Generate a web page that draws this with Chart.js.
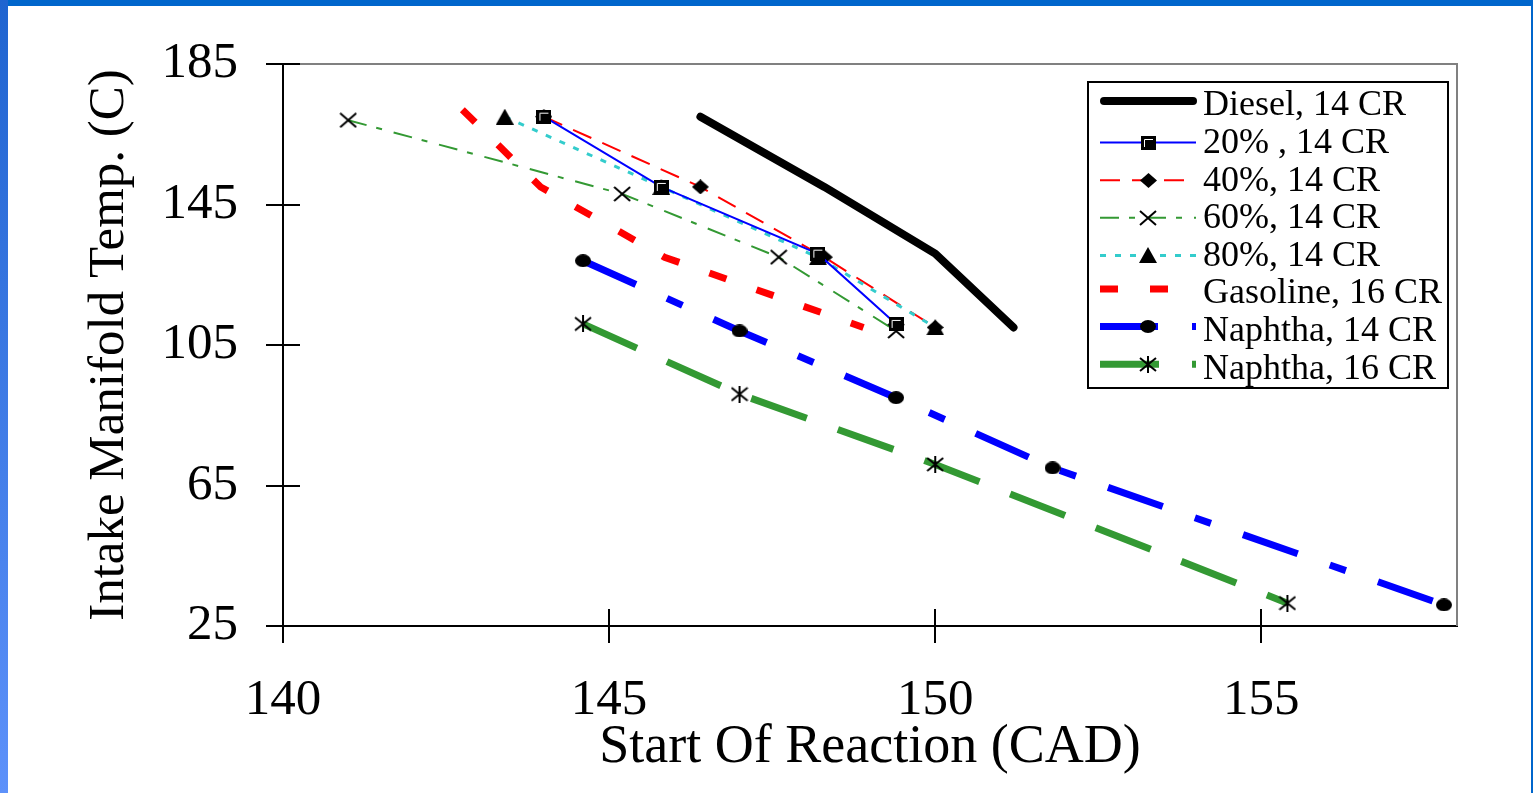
<!DOCTYPE html>
<html>
<head>
<meta charset="utf-8">
<title>Intake Manifold Temp vs Start Of Reaction</title>
<script src="https://cdn.jsdelivr.net/npm/chart.js@4.4.1/dist/chart.umd.min.js"></script>
<style>
    html, body { margin: 0; padding: 0; background: #fff; overflow: hidden; }
    #wrap { position: relative; width: 1533px; height: 793px; }
    #chart { display: block; }
    .bar { position: absolute; pointer-events: none; }
    #topBar { left: 0; top: 0; width: 1533px; height: 6px; background: #0066cc; }
    #leftBar { left: 0; top: 0; width: 8px; height: 793px; background: linear-gradient(to bottom, #1f64d0, #5d91fa); }
    #rightBar { left: 1531px; top: 0; width: 2px; height: 793px; background: #0066cc; }
</style>
</head>
<body>
<div id="wrap">
    <canvas id="chart" width="1533" height="793"></canvas>
    <div class="bar" id="topBar"></div>
    <div class="bar" id="leftBar"></div>
    <div class="bar" id="rightBar"></div>
</div>
<script>
// Axis ticks
const xTicks = [140, 145, 150, 155];
const yTicks = [25, 65, 105, 145, 185];

// Series (x = start of reaction CAD, y = intake manifold temp C)
const seriesNames = ['Diesel, 14 CR', '20% , 14 CR', '40%, 14 CR', '60%, 14 CR',
    '80%, 14 CR', 'Gasoline, 16 CR', 'Naphtha, 14 CR', 'Naphtha, 16 CR'];

const dieselX = [146.4, 148.3, 150.0, 151.2];
const dieselY = [170, 150, 131, 110];

const pct20X = [144.0, 145.8, 148.2, 149.4];
const pct20Y = [170, 150, 131, 111];

const pct40X = [144.0, 146.4, 148.3, 150.0];
const pct40Y = [170, 150, 130, 110];

const pct60X = [141.0, 145.2, 147.6, 149.4];
const pct60Y = [169, 148, 130, 109];

const pct80X = [143.4, 145.8, 148.2, 150.0];
const pct80Y = [170, 150, 130, 110];

const gasolineX = [142.75, 143.95, 145.85, 148.9];
const gasolineY = [172, 150, 130, 110];

const naphtha14X = [144.6, 147.0, 149.4, 151.8, 157.8];
const naphtha14Y = [129, 109, 90, 70, 31];

const naphtha16X = [144.6, 147.0, 150.0, 155.4];
const naphtha16Y = [111, 91, 71, 31.5];

const FONT = '"Liberation Serif", "Times New Roman", serif';

// Marker glyphs drawn on small canvases
function makeMarker(w, h, draw) {
    const c = document.createElement('canvas');
    c.width = w; c.height = h;
    const g = c.getContext('2d');
    g.fillStyle = '#000';
    g.strokeStyle = '#000';
    draw(g, w, h);
    return c;
}

const squareMark = makeMarker(15, 14, (g, w, h) => {
    g.fillRect(0, 0, w, h);
    g.strokeStyle = '#fff';
    g.lineWidth = 1;
    g.beginPath();
    g.moveTo(3.5, h - 3); g.lineTo(3.5, 3.5); g.lineTo(w - 3, 3.5);
    g.stroke();
});
const diamondMark = makeMarker(17, 15, (g, w, h) => {
    g.beginPath();
    g.moveTo(w / 2, 0); g.lineTo(w, h / 2); g.lineTo(w / 2, h); g.lineTo(0, h / 2);
    g.closePath(); g.fill();
});
const crossMark = makeMarker(18, 16, (g, w, h) => {
    g.lineWidth = 2;
    g.beginPath();
    g.moveTo(1, 1); g.lineTo(w - 1, h - 1);
    g.moveTo(w - 1, 1); g.lineTo(1, h - 1);
    g.stroke();
});
const triangleMark = makeMarker(18, 16, (g, w, h) => {
    g.beginPath();
    g.moveTo(w / 2, 0); g.lineTo(w, h); g.lineTo(0, h);
    g.closePath(); g.fill();
});
const dotMark = makeMarker(16, 13, (g, w, h) => {
    g.beginPath();
    g.ellipse(w / 2, h / 2, w / 2, h / 2, 0, 0, Math.PI * 2);
    g.fill();
});
const starMark = makeMarker(18, 17, (g, w, h) => {
    g.lineWidth = 2;
    g.beginPath();
    g.moveTo(w / 2, 0); g.lineTo(w / 2, h);
    g.moveTo(1, 2); g.lineTo(w - 1, h - 2);
    g.moveTo(w - 1, 2); g.lineTo(1, h - 2);
    g.stroke();
});

function pts(xs, ys) {
    return xs.map((x, i) => ({ x: x, y: ys[i] }));
}

function series(i, xs, ys, style) {
    return Object.assign({
        label: seriesNames[i],
        data: pts(xs, ys),
        showLine: true,
        fill: false,
        tension: 0,
        borderDash: [],
        borderCapStyle: 'butt',
        borderJoinStyle: 'miter',
        pointRadius: 8,
        pointHoverRadius: 8
    }, style);
}

const datasets = [
    series(0, dieselX, dieselY, { borderColor: '#000', borderWidth: 8, borderCapStyle: 'round', borderJoinStyle: 'round', pointRadius: 0, pointStyle: false, order: 5 }),
    series(1, pct20X, pct20Y, { borderColor: '#0000ff', borderWidth: 2, pointStyle: squareMark, order: 1 }),
    series(2, pct40X, pct40Y, { borderColor: '#ff0000', borderWidth: 2, borderDash: [20, 12], pointStyle: diamondMark, order: 4 }),
    series(3, pct60X, pct60Y, { borderColor: '#339933', borderWidth: 2, borderDash: [19, 10, 6, 12], pointStyle: crossMark, order: 3 }),
    series(4, pct80X, pct80Y, { borderColor: '#33cccc', borderWidth: 3, borderDash: [6, 9], pointStyle: triangleMark, order: 2 }),
    series(5, gasolineX, gasolineY, { borderColor: '#ff0000', borderWidth: 7, borderDash: [18, 32], pointRadius: 0, pointStyle: false, order: 6 }),
    series(6, naphtha14X, naphtha14Y, { borderColor: '#0000ff', borderWidth: 7, borderDash: [58, 34, 17, 34], pointStyle: dotMark, order: 7 }),
    series(7, naphtha16X, naphtha16Y, { borderColor: '#339933', borderWidth: 7, borderDash: [59, 33], pointStyle: starMark, order: 8 })
];

// Gray frame on top/right of the plot plus tick marks reaching into the plot
const framePlugin = {
    id: 'frame',
    beforeDatasetsDraw(chart) {
        const { ctx, chartArea: a, scales } = chart;
        ctx.save();
        ctx.strokeStyle = '#808080';
        ctx.lineWidth = 2;
        ctx.beginPath();
        ctx.moveTo(a.left, a.top); ctx.lineTo(a.right, a.top); ctx.lineTo(a.right, a.bottom);
        ctx.stroke();

        ctx.strokeStyle = '#000';
        ctx.beginPath();
        yTicks.forEach(v => {
            const y = Math.round(scales.y.getPixelForValue(v));
            ctx.moveTo(a.left, y); ctx.lineTo(a.left + 17, y);
        });
        xTicks.forEach(v => {
            const x = Math.round(scales.x.getPixelForValue(v));
            ctx.moveTo(x, a.bottom); ctx.lineTo(x, a.bottom - 17);
        });
        ctx.stroke();
        ctx.restore();
    }
};

const legendPlugin = {
    id: 'boxLegend',
    afterDraw(chart) {
        const ctx = chart.ctx;
        const box = { x: 1088, y: 82, w: 360, h: 306 };
        ctx.save();
        ctx.fillStyle = '#fff';
        ctx.fillRect(box.x, box.y, box.w, box.h);
        ctx.strokeStyle = '#000';
        ctx.lineWidth = 2;
        ctx.setLineDash([]);
        ctx.strokeRect(box.x, box.y, box.w, box.h);

        chart.data.datasets.forEach((ds, i) => {
            const rowY = 106 + i * 37.6;
            const lineY = rowY - (ds.borderWidth >= 7 ? 5 : 1);
            ctx.save();
            ctx.beginPath();
            ctx.setLineDash(ds.borderDash || []);
            ctx.lineWidth = ds.borderWidth;
            ctx.strokeStyle = ds.borderColor;
            ctx.lineCap = ds.borderCapStyle || 'butt';
            ctx.moveTo(ds.borderCapStyle === 'round' ? 1104 : 1100, lineY);
            ctx.lineTo(ds.borderCapStyle === 'round' ? 1193 : 1196, lineY);
            ctx.stroke();
            ctx.restore();

            if (ds.pointStyle) {
                const m = ds.pointStyle;
                ctx.drawImage(m, Math.round(1148 - m.width / 2), Math.round(lineY - m.height / 2));
            }

            ctx.fillStyle = '#000';
            ctx.font = '36px ' + FONT;
            ctx.textAlign = 'left';
            ctx.textBaseline = 'middle';
            ctx.fillText(ds.label, 1203, rowY);
        });
        ctx.restore();
    }
};

const tickFont = { family: FONT, size: 51, lineHeight: 1.2 };

new Chart(document.getElementById('chart').getContext('2d'), {
    type: 'scatter',
    data: { datasets: datasets },
    options: {
        responsive: false,
        animation: false,
        devicePixelRatio: 1,
        layout: { padding: { left: 0, top: 64, right: 76, bottom: 0 } },
        plugins: {
            legend: { display: false },
            tooltip: { enabled: false }
        },
        events: [],
        scales: {
            x: {
                type: 'linear',
                min: 140,
                max: 158,
                afterBuildTicks: s => { s.ticks = xTicks.map(v => ({ value: v })); },
                afterFit: s => { s.height = 167; },
                grid: { drawOnChartArea: false, drawTicks: true, tickLength: 17, color: '#000', lineWidth: 2 },
                border: { display: true, color: '#000', width: 2 },
                ticks: { color: '#000', font: tickFont, padding: 27, maxRotation: 0, autoSkip: false },
                title: {
                    display: true,
                    text: 'Start Of Reaction (CAD)',
                    color: '#000',
                    font: { family: FONT, size: 54, lineHeight: 1.2 },
                    padding: { top: 0, bottom: 13 }
                }
            },
            y: {
                type: 'linear',
                min: 25,
                max: 185,
                afterBuildTicks: s => { s.ticks = yTicks.map(v => ({ value: v })); },
                afterFit: s => { s.width = 283; },
                grid: { drawOnChartArea: false, drawTicks: true, tickLength: 17, color: '#000', lineWidth: 2 },
                border: { display: true, color: '#000', width: 2 },
                ticks: { color: '#000', font: tickFont, padding: 28, autoSkip: false },
                title: {
                    display: true,
                    text: 'Intake Manifold Temp. (C)',
                    color: '#000',
                    font: { family: FONT, size: 51, lineHeight: 1.2 },
                    padding: { top: 79, bottom: 0 }
                }
            }
        }
    },
    plugins: [framePlugin, legendPlugin]
});
</script>
</body>
</html>
